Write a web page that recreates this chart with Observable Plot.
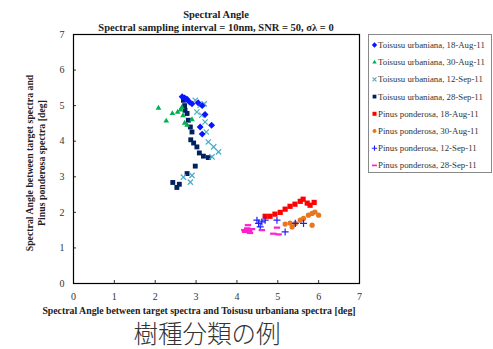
<!DOCTYPE html>
<html><head><meta charset="utf-8">
<script src="https://cdn.jsdelivr.net/npm/d3@7"></script>
<script src="https://cdn.jsdelivr.net/npm/@observablehq/plot@0.6"></script>
<style>
body{margin:0;background:#fff;}
#wrap{position:relative;width:493px;height:349px;overflow:hidden;font-family:"Liberation Serif","Times New Roman",serif;}
#wrap svg{position:absolute;left:0;top:0;}
#cap{position:absolute;left:0;width:414px;top:320px;height:26px;text-align:center;font-family:"Noto Sans CJK JP",sans-serif;font-weight:300;font-size:24.5px;color:#333;line-height:26px;}
</style></head><body>
<div id="wrap"><div id="cap">樹種分類の例</div></div>
<script>
const xTicks = [0,1,2,3,4,5,6,7];
const yTicks = [0,1,2,3,4,5,6,7];
const seriesNames = ["Toisusu urbaniana, 18-Aug-11","Toisusu urbaniana, 30-Aug-11","Toisusu urbaniana, 12-Sep-11","Toisusu urbaniana, 28-Sep-11","Pinus ponderosa, 18-Aug-11","Pinus ponderosa, 30-Aug-11","Pinus ponderosa, 12-Sep-11","Pinus ponderosa, 28-Sep-11"];

const t18x = [2.66,2.72,2.78,2.84,2.90,3.05,3.15,3.22,3.38,3.10,3.15];
const t18y = [5.25,5.22,5.18,5.10,5.05,5.08,5.00,4.75,4.45,4.40,4.20];
const t30x = [2.08,2.42,2.27,2.55,2.62,2.68,2.72,2.78,2.90,2.65];
const t30y = [4.93,4.78,4.57,4.82,4.88,4.72,4.51,4.45,4.61,4.95];
const t12x = [2.98,3.10,3.02,3.14,3.22,3.25,3.30,3.43,3.55,3.39,2.69,2.90,2.86,3.20];
const t12y = [5.15,5.01,4.82,4.73,4.54,4.26,3.98,3.84,3.70,3.56,2.99,3.04,2.85,5.05];
const t28x = [2.69,2.72,2.73,2.78,2.81,2.86,2.90,2.87,2.94,3.02,3.08,3.18,3.30,2.98,2.78,2.43,2.59,2.53];
const t28y = [5.15,5.00,4.87,4.78,4.59,4.40,4.26,4.04,3.95,3.84,3.67,3.58,3.54,3.30,3.09,2.84,2.79,2.70];
const p18x = [4.69,4.81,4.93,5.06,5.18,5.30,5.42,5.55,5.62,5.72,5.79,5.89];
const p18y = [1.89,1.89,1.95,2.00,2.09,2.17,2.23,2.31,2.37,2.26,2.20,2.28];
const p30x = [5.18,5.30,5.35,5.43,5.55,5.63,5.75,5.84,5.91,6.00,5.84];
const p30y = [1.67,1.70,1.59,1.69,1.78,1.83,1.92,1.97,2.01,1.92,1.64];
const p12x = [4.49,4.53,4.61,4.69,4.57,4.98,5.43,5.63,5.18];
const p12y = [1.78,1.69,1.73,1.78,1.59,1.78,1.69,1.69,1.45];
const p28x = [4.18,4.20,4.28,4.32,4.27,4.37,4.61,4.98,4.89,5.02,4.25,4.30];
const p28y = [1.50,1.45,1.50,1.42,1.64,1.53,1.50,1.57,1.40,1.38,1.55,1.47];

const dash = {draw(ctx, size){const w=Math.sqrt(size)*0.6, h=w*0.35; ctx.moveTo(-w,-h);ctx.lineTo(w,-h);ctx.lineTo(w,h);ctx.lineTo(-w,h);ctx.closePath();}};

const styles = [
  {sym:"diamond2", fill:"#0a14ff", r:3.1},
  {sym:"triangle2", fill:"#00b050", r:2.7},
  {sym:"times", stroke:"#4bacc6", r:2.5},
  {sym:"square2", fill:"#002060", r:3.1},
  {sym:"square2", fill:"#ff0000", r:3.3},
  {sym:"circle", fill:"#e8761c", r:2.6},
  {sym:"plus", stroke:"#2020ff", r:2.4},
  {sym:dash, fill:"#ff22cc", r:3.0}
];
const xs=[t18x,t30x,t12x,t28x,p18x,p30x,p12x,p28x];
const ys=[t18y,t30y,t12y,t28y,p18y,p30y,p12y,p28y];
const order=[4,5,6,7,3,2,1,0];

const marks=[];
for(const i of order){
  const data = xs[i].map((x,k)=>({x, y: ys[i][k]}));
  const s=styles[i];
  marks.push(Plot.dot(data,{x:"x",y:"y",r:s.r,symbol:s.sym,fill:s.fill||"none",stroke:s.stroke||"none",strokeWidth:s.stroke?1.2:0}));
}

const chart = Plot.plot({
  width:493, height:349,
  marginLeft:73, marginRight:134, marginTop:34, marginBottom:66,
  style:{fontFamily:"Liberation Serif, serif", fontSize:"10px", color:"#333", background:"transparent"},
  x:{domain:[0,7]}, y:{domain:[0,7]},
  marks:[
    Plot.axisX({ticks:xTicks, tickFormat:d3.format("d"), tickSize:-3, tickPadding:12, label:null, fill:"#333", stroke:"#333"}),
    Plot.axisY({ticks:yTicks, tickFormat:d3.format("d"), tickSize:-3, tickPadding:12, label:null, fill:"#333", stroke:"#333"}),
    ...marks,
    Plot.frame({stroke:"#000", strokeWidth:1.2})
  ]
});
const wrap=document.getElementById("wrap");
wrap.insertBefore(chart, wrap.firstChild);

const svg=d3.select(chart);
const tstyle = (sel,size,weight)=>sel.attr("font-family","Liberation Serif, serif").attr("font-size",size).attr("font-weight",weight).attr("fill","#222").attr("text-anchor","middle");
tstyle(svg.append("text").attr("x",216).attr("y",18).text("Spectral Angle"),"10.5px","bold");
tstyle(svg.append("text").attr("x",216).attr("y",31).text("Spectral sampling interval = 10nm, SNR = 50, σλ = 0"),"10.5px","bold");
tstyle(svg.append("text").attr("x",199).attr("y",314).text("Spectral Angle between target spectra and Toisusu urbaniana spectra [deg]"),"9.8px","bold");
const yl=svg.append("text").attr("transform","translate(0,163) rotate(-90)");
tstyle(yl,"9.8px","bold");
yl.append("tspan").attr("x",0).attr("y",33).text("Spectral Angle between target spectra and");
yl.append("tspan").attr("x",0).attr("y",45).text("Pinus ponderosa spectra [deg]");

// legend
const lg=svg.append("g").attr("text-anchor","start");
lg.append("rect").attr("x",368.5).attr("y",34.5).attr("width",123).attr("height",138).attr("fill","#fff").attr("stroke","#888").attr("stroke-width",1);
seriesNames.forEach((name,i)=>{
  const y=45+i*17.2;
  const s=styles[i];
  const typ = typeof s.sym==="string" ? ({diamond2:d3.symbolDiamond2,triangle2:d3.symbolTriangle2,times:d3.symbolTimes,square2:d3.symbolSquare2,circle:d3.symbolCircle,plus:d3.symbolPlus})[s.sym] : s.sym;
  lg.append("path").attr("transform",`translate(374.5,${y})`).attr("d",d3.symbol(typ, Math.PI*s.r*s.r*0.6)())
    .attr("fill",s.fill||"none").attr("stroke",s.stroke||"none").attr("stroke-width",1.1);
  lg.append("text").attr("x",378).attr("y",y+3).attr("text-anchor","start").attr("font-family","Liberation Serif, serif").attr("font-size","8.8px").attr("fill","#333").text(name);
});
</script></body></html>
